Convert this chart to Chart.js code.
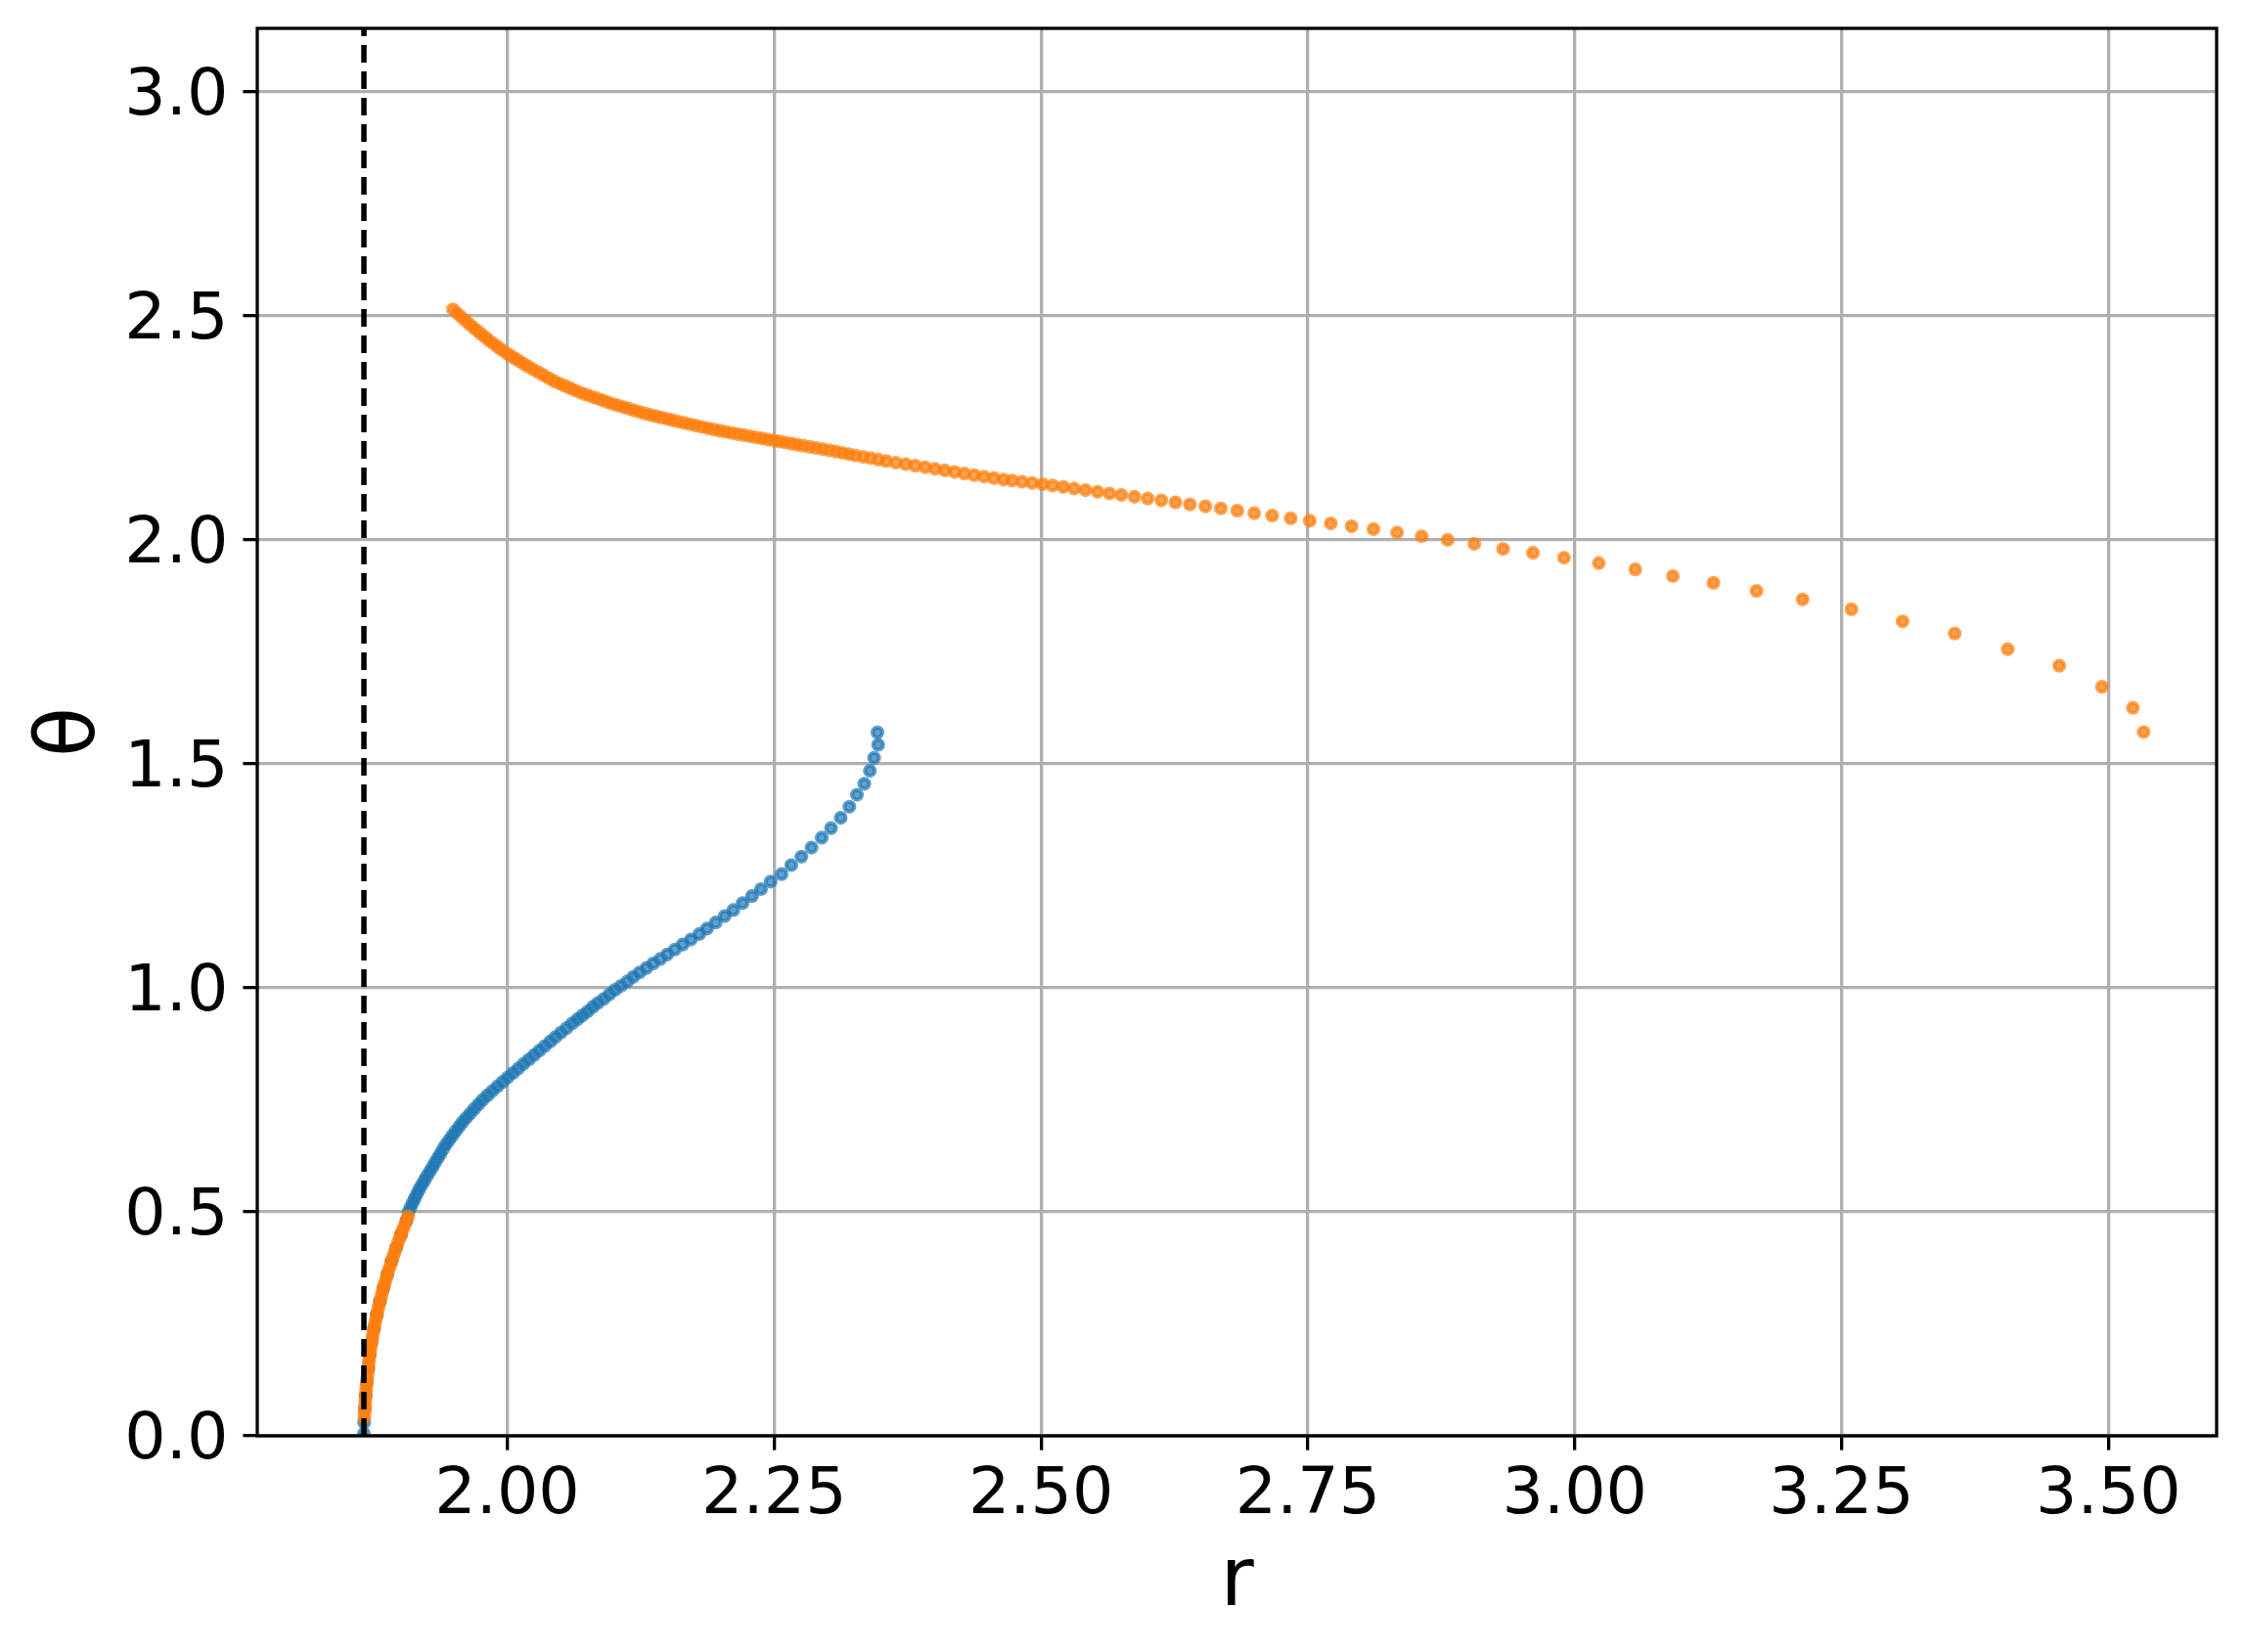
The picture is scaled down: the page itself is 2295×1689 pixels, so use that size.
<!DOCTYPE html>
<html>
<head>
<meta charset="utf-8">
<script src="https://cdn.jsdelivr.net/npm/chart.js@4.4.0/dist/chart.umd.min.js"></script>
<style>
  html, body { margin: 0; padding: 0; background: #ffffff; }
  #wrap { width: 2295px; height: 1689px; }
</style>
</head>
<body>
<div id="wrap"><canvas id="chart" width="2295" height="1689"></canvas></div>
<script>
// axis ticks
const xTicks = [2.00, 2.25, 2.50, 2.75, 3.00, 3.25, 3.50];
const yTicks = [0.0, 0.5, 1.0, 1.5, 2.0, 2.5, 3.0];
const xRange = [1.7658, 3.6014];
const yRange = [0, Math.PI];

// dashed vertical marker
const rHorizon = 1.8657;

// blue series
const rBlue = [
  1.8657, 1.8660, 1.8666, 1.8674, 1.8685, 1.8697, 1.8711, 1.8730, 1.8752, 1.8778,
  1.8807, 1.8840, 1.8876, 1.8917, 1.8960, 1.9006, 1.9055,
  1.9075, 1.9094, 1.9114, 1.9134, 1.9154, 1.9175, 1.9199, 1.9223, 1.9248, 1.9274,
  1.9300, 1.9324, 1.9349, 1.9374, 1.9399, 1.9425, 1.9455, 1.9486, 1.9517, 1.9548,
  1.9580, 1.9617, 1.9654, 1.9692, 1.9731, 1.9770, 1.9815, 1.9862, 1.9909, 1.9957,
  2.0005, 2.0054, 2.0103, 2.0152, 2.0202, 2.0252, 2.0302, 2.0352, 2.0402, 2.0452,
  2.0503, 2.0555,
  2.0609, 2.0658, 2.0704, 2.0753, 2.0802, 2.0851, 2.0904, 2.0956, 2.1009, 2.1065,
  2.1125, 2.1181, 2.1240, 2.1304, 2.1367, 2.1434, 2.1500, 2.1571, 2.1644, 2.1721,
  2.1799, 2.1872, 2.1953, 2.2037, 2.2118, 2.2205, 2.2293, 2.2377, 2.2468, 2.2570,
  2.2661, 2.2756, 2.2851, 2.2946, 2.3033, 2.3124, 2.3205, 2.3276, 2.3345, 2.3397,
  2.3437, 2.3475, 2.3468
];
const thetaBlue = [
  0.005, 0.03, 0.06, 0.09, 0.12, 0.15, 0.18, 0.21, 0.24, 0.27,
  0.30, 0.33, 0.36, 0.39, 0.42, 0.45, 0.48,
  0.50, 0.51, 0.52, 0.53, 0.54, 0.55, 0.56, 0.57, 0.58, 0.59,
  0.60, 0.61, 0.62, 0.63, 0.64, 0.65, 0.66, 0.67, 0.68, 0.69,
  0.70, 0.71, 0.72, 0.73, 0.74, 0.75, 0.76, 0.77, 0.78, 0.79,
  0.80, 0.81, 0.82, 0.83, 0.84, 0.85, 0.86, 0.87, 0.88, 0.89,
  0.90, 0.91,
  0.9207, 0.9296, 0.9384, 0.9474, 0.9574, 0.9664, 0.9753, 0.9853, 0.9954, 1.0041,
  1.0142, 1.0243, 1.0343, 1.0443, 1.0544, 1.0644, 1.0745, 1.0856, 1.0968, 1.1079,
  1.1201, 1.1324, 1.1457, 1.1603, 1.1736, 1.1891, 1.2048, 1.2204, 1.2372, 1.2538,
  1.2739, 1.2929, 1.3130, 1.3352, 1.3564, 1.3797, 1.4042, 1.4309, 1.4555, 1.4844,
  1.5134, 1.5425, 1.5700
];

// orange series, lower branch
const rOrangeLow = [
  1.8661, 1.8663, 1.8666, 1.8668, 1.8671, 1.8674, 1.8677, 1.8681, 1.8685, 1.8689,
  1.8693, 1.8697, 1.8701, 1.8706, 1.8711, 1.8717, 1.8723, 1.8730, 1.8737, 1.8744,
  1.8752, 1.8760, 1.8769, 1.8778, 1.8787, 1.8797, 1.8807, 1.8818, 1.8829, 1.8840,
  1.8852, 1.8864, 1.8876, 1.8889, 1.8903, 1.8917, 1.8931, 1.8945, 1.8960, 1.8975,
  1.8990, 1.9006, 1.9022, 1.9038, 1.9055, 1.9072
];
const thetaOrangeLow = [
  0.04, 0.05, 0.06, 0.07, 0.08, 0.09, 0.10, 0.11, 0.12, 0.13,
  0.14, 0.15, 0.16, 0.17, 0.18, 0.19, 0.20, 0.21, 0.22, 0.23,
  0.24, 0.25, 0.26, 0.27, 0.28, 0.29, 0.30, 0.31, 0.32, 0.33,
  0.34, 0.35, 0.36, 0.37, 0.38, 0.39, 0.40, 0.41, 0.42, 0.43,
  0.44, 0.45, 0.46, 0.47, 0.48, 0.49
];

// orange series, upper branch
const rOrangeHigh = [
  1.9491, 1.9528, 1.9566, 1.9605, 1.9644, 1.9681, 1.9718, 1.9754, 1.9791, 1.9828,
  1.9870, 1.9911, 1.9953, 1.9995, 2.0035, 2.0075, 2.0114, 2.0154, 2.0194, 2.0243,
  2.0292, 2.0341, 2.0390, 2.0439, 2.0488, 2.0537, 2.0585, 2.0634, 2.0683, 2.0734,
  2.0785, 2.0836, 2.0887, 2.0938, 2.0989, 2.1040, 2.1091, 2.1142, 2.1192, 2.1243,
  2.1294, 2.1345, 2.1396, 2.1447, 2.1498, 2.1549, 2.1600, 2.1656, 2.1712, 2.1768,
  2.1824, 2.1880, 2.1936, 2.1992, 2.2048, 2.2105, 2.2161, 2.2217, 2.2273, 2.2329,
  2.2385, 2.2441, 2.2497, 2.2552, 2.2607, 2.2661, 2.2716, 2.2771, 2.2833, 2.2894,
  2.2956, 2.3017, 2.3078, 2.3140, 2.3201, 2.3262, 2.3333, 2.3405, 2.3477, 2.3549,
  2.3640, 2.3732, 2.3823, 2.3915, 2.4007, 2.4099, 2.4191, 2.4283, 2.4375, 2.4467,
  2.4559, 2.4650, 2.4730, 2.4823, 2.4917, 2.5015, 2.5110, 2.5210, 2.5310, 2.5417,
  2.5530, 2.5642, 2.5754, 2.5876, 2.6000, 2.6128, 2.6260, 2.6395, 2.6540, 2.6685,
  2.6839, 2.6998, 2.7166, 2.7340, 2.7518, 2.7715, 2.7910, 2.8115, 2.8336, 2.8567,
  2.8810, 2.9060, 2.9330, 2.9610, 2.9900, 3.0226, 3.0568, 3.0920, 3.1300, 3.1704,
  3.2135, 3.2593, 3.3072, 3.3560, 3.4057, 3.4540, 3.4940, 3.5230, 3.5330
];
const thetaOrangeHigh = [
  2.5143, 2.5063, 2.4981, 2.4898, 2.4816, 2.4743, 2.4670, 2.4598, 2.4526, 2.4453,
  2.4380, 2.4307, 2.4234, 2.4161, 2.4103, 2.4045, 2.3986, 2.3928, 2.3870, 2.3804,
  2.3739, 2.3673, 2.3608, 2.3542, 2.3490, 2.3439, 2.3389, 2.3338, 2.3287, 2.3244,
  2.3202, 2.3160, 2.3118, 2.3075, 2.3033, 2.2996, 2.2960, 2.2924, 2.2887, 2.2851,
  2.2815, 2.2786, 2.2757, 2.2728, 2.2698, 2.2669, 2.2640, 2.2610, 2.2580, 2.2550,
  2.2520, 2.2490, 2.2460, 2.2435, 2.2410, 2.2385, 2.2360, 2.2335, 2.2310, 2.2287,
  2.2264, 2.2240, 2.2217, 2.2194, 2.2170, 2.2147, 2.2124, 2.2101, 2.2075, 2.2050,
  2.2024, 2.1998, 2.1969, 2.1941, 2.1912, 2.1883, 2.1853, 2.1823, 2.1790, 2.1758,
  2.1723, 2.1689, 2.1654, 2.1619, 2.1584, 2.1549, 2.1514, 2.1479, 2.1444, 2.1410,
  2.1377, 2.1345, 2.1322, 2.1297, 2.1270, 2.1242, 2.1212, 2.1180, 2.1145, 2.1110,
  2.1072, 2.1035, 2.1000, 2.0963, 2.0922, 2.0880, 2.0836, 2.0792, 2.0748, 2.0700,
  2.0650, 2.0595, 2.0540, 2.0480, 2.0425, 2.0368, 2.0302, 2.0240, 2.0162, 2.0080,
  2.0000, 1.9910, 1.9795, 1.9710, 1.9600, 1.9480, 1.9340, 1.9190, 1.9040, 1.8860,
  1.8670, 1.8450, 1.8180, 1.7910, 1.7560, 1.7190, 1.6720, 1.6250, 1.5708
];

const toPoints = (xs, ys) => xs.map((x, i) => ({ x: x, y: ys[i] }));

const FONT = "'DejaVu Sans', 'Liberation Sans', sans-serif";
const BLUE = "rgba(31, 119, 180, 0.7)";
const ORANGE = "rgba(255, 127, 14, 0.7)";
const PLOT = { left: 263, top: 29, right: 29, bottom: 1468 };

// matplotlib-like frame on all four sides, drawn over the markers
const framePlugin = {
  id: "frame",
  afterDatasetsDraw(chart) {
    const { ctx, chartArea } = chart;
    ctx.save();
    ctx.strokeStyle = "#000000";
    ctx.lineWidth = 3.3;
    ctx.strokeRect(chartArea.left, chartArea.top,
      chartArea.right - chartArea.left, chartArea.bottom - chartArea.top);
    ctx.restore();
  }
};

const markerStyle = (color) => ({
  backgroundColor: color,
  borderColor: color,
  borderWidth: 4.2,
  pointRadius: 5.0,
  pointBorderWidth: 4.2,
  pointHoverRadius: 5.0
});

// keep the plot box where the reference has it
const noEdgePadding = (axis) => {
  axis.paddingTop = 0;
  axis.paddingBottom = 0;
  axis.paddingLeft = 0;
  axis.paddingRight = 0;
};

new Chart(document.getElementById("chart"), {
  type: "scatter",
  data: {
    datasets: [
      {
        type: "line",
        data: [{ x: rHorizon, y: yRange[0] }, { x: rHorizon, y: yRange[1] }],
        borderColor: "#000000",
        borderWidth: 5.5,
        borderDash: [18, 9],
        pointRadius: 0,
        fill: false,
        order: 0
      },
      Object.assign({
        data: toPoints(rOrangeLow, thetaOrangeLow).concat(toPoints(rOrangeHigh, thetaOrangeHigh)),
        order: 1
      }, markerStyle(ORANGE)),
      Object.assign({
        data: toPoints(rBlue, thetaBlue),
        order: 2
      }, markerStyle(BLUE))
    ]
  },
  options: {
    responsive: false,
    animation: false,
    devicePixelRatio: 1,
    events: [],
    layout: { padding: { left: 0, top: PLOT.top, right: PLOT.right, bottom: 0 } },
    plugins: {
      legend: { display: false },
      tooltip: { enabled: false }
    },
    scales: {
      x: {
        type: "linear",
        position: "bottom",
        min: xRange[0],
        max: xRange[1],
        afterBuildTicks: (axis) => { axis.ticks = xTicks.map(v => ({ value: v })); },
        afterFit: (axis) => { axis.height = 1689 - PLOT.bottom; noEdgePadding(axis); },
        border: { display: false },
        grid: {
          color: "#b0b0b0",
          lineWidth: 3.3,
          tickLength: 14.6,
          tickColor: "#000000",
          tickWidth: 3.3
        },
        ticks: {
          color: "#000000",
          font: { family: FONT, size: 66.7, lineHeight: 1.2 },
          padding: 6.6,
          maxRotation: 0,
          autoSkip: false,
          callback: (v) => Number(v).toFixed(2)
        },
        title: {
          display: true,
          text: "r",
          color: "#000000",
          font: { family: FONT, size: 83.3, lineHeight: 1.2 },
          padding: { top: 0, bottom: 20 }
        }
      },
      y: {
        type: "linear",
        position: "left",
        min: yRange[0],
        max: yRange[1],
        afterBuildTicks: (axis) => { axis.ticks = yTicks.map(v => ({ value: v })); },
        afterFit: (axis) => { axis.width = PLOT.left; noEdgePadding(axis); },
        border: { display: false },
        grid: {
          color: "#b0b0b0",
          lineWidth: 3.3,
          tickLength: 14.6,
          tickColor: "#000000",
          tickWidth: 3.3
        },
        ticks: {
          color: "#000000",
          font: { family: FONT, size: 66.7, lineHeight: 1.2 },
          padding: 15,
          labelOffset: 6,
          autoSkip: false,
          callback: (v) => Number(v).toFixed(1)
        },
        title: {
          display: true,
          text: "θ",
          color: "#000000",
          font: { family: FONT, size: 83.3, lineHeight: 1.2 },
          padding: { top: 24, bottom: 0 }
        }
      }
    }
  },
  plugins: [framePlugin]
});
</script>
</body>
</html>
